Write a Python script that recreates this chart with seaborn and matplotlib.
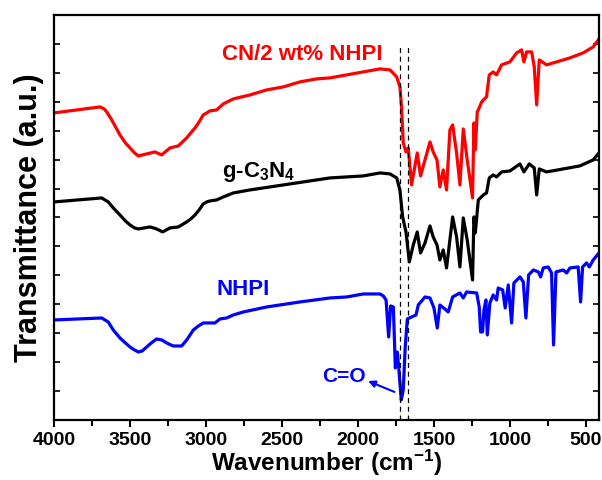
import pandas as pd
import matplotlib.pyplot as plt
import seaborn as sns
import numpy as np
from matplotlib.ticker import MultipleLocator

# FTIR spectra, transmittance in arbitrary units (offset stacked)
wn_cn = [4000, 3697, 3670, 3653, 3620, 3566, 3530, 3500, 3470, 3445, 3390, 3336, 3292, 3237,
         3182, 3127, 3100, 3072, 3045, 3018, 2995, 2974, 2930, 2886, 2820, 2710, 2601, 2491,
         2382, 2272, 2184, 2074, 1965, 1855, 1789, 1745, 1724, 1713, 1702, 1684, 1669, 1647,
         1610, 1588, 1559, 1526, 1505, 1480, 1461, 1439, 1417, 1395, 1377, 1351, 1329, 1307,
         1281, 1246, 1237, 1228, 1215, 1208, 1186, 1175, 1154, 1136, 1110, 1088, 1055, 1000,
         956, 923, 908, 890, 857, 840, 824, 807, 759, 693, 605, 518, 452, 414]
t_cn = [307, 313, 311, 308, 300, 285, 277, 272, 267, 264, 266, 268, 265, 272,
        274, 282, 287, 292, 298, 305, 307, 309, 310, 316, 321, 325, 330, 333,
        338, 341, 342, 345, 348, 351, 350, 343, 333, 313, 277, 268, 272, 235,
        267, 244, 260, 278, 268, 260, 233, 250, 230, 290, 295, 267, 235, 291,
        260, 222, 297, 270, 308, 310, 318, 320, 323, 345, 348, 345, 355, 358,
        367, 370, 358, 368, 368, 353, 315, 360, 355, 358, 362, 367, 373, 381]

wn_gcn = [4000, 3686, 3665, 3643, 3610, 3566, 3530, 3500, 3470, 3445, 3368, 3325, 3285, 3237,
          3182, 3127, 3100, 3072, 3045, 3018, 2995, 2974, 2930, 2886, 2820, 2710, 2491, 2272,
          2184, 2074, 1965, 1855, 1789, 1745, 1724, 1706, 1684, 1662, 1636, 1610, 1588, 1559,
          1526, 1505, 1480, 1461, 1439, 1417, 1377, 1351, 1329, 1307, 1281, 1246, 1237, 1228,
          1208, 1175, 1154, 1136, 1110, 1088, 1055, 1000, 934, 908, 873, 840, 824, 807, 759,
          649, 540, 452, 414]
t_gcn = [218, 222, 220, 218, 212, 205, 199, 195, 192, 191, 193, 191, 188, 192,
         193, 198, 201, 205, 210, 216, 218, 219, 220, 223, 227, 230, 235, 240,
         242, 243, 244, 247, 246, 242, 230, 203, 188, 158, 175, 188, 167, 177,
         194, 183, 175, 160, 170, 152, 203, 183, 153, 202, 180, 140, 203, 187,
         220, 225, 227, 242, 245, 243, 248, 249, 256, 248, 256, 252, 225, 251, 248,
         251, 254, 260, 267]

wn_nhpi = [4000, 3686, 3665, 3643, 3610, 3566, 3530, 3500, 3470, 3445, 3420, 3390, 3360, 3325,
           3290, 3270, 3245, 3215, 3160, 3127, 3105, 3083, 3050, 3018, 2941, 2908, 2864, 2820,
           2754, 2601, 2382, 2184, 2074, 1965, 1855, 1833, 1815, 1798, 1785, 1767, 1754, 1741,
           1732, 1715, 1702, 1689, 1675, 1647, 1618, 1603, 1559, 1526, 1500, 1478, 1461, 1428,
           1406, 1377, 1329, 1307, 1285, 1219, 1202, 1193, 1180, 1171, 1158, 1149, 1132, 1110,
           1088, 1077, 1048, 1031, 1011, 989, 974, 934, 912, 895, 877, 846, 813, 798, 781,
           748, 726, 713, 697, 649, 627, 605, 551, 535, 522, 496, 478, 452, 414]
t_nhpi = [100, 102, 100, 98, 90, 82, 77, 73, 70, 68, 69, 73, 77, 81,
          80, 78, 76, 74, 74, 80, 85, 90, 94, 97, 97, 101, 102, 105,
          108, 113, 118, 122, 123, 126, 126, 124, 120, 83, 114, 113, 52, 68,
          53, 20, 30, 73, 101, 103, 105, 115, 123, 122, 112, 92, 115, 111,
          108, 123, 127, 122, 128, 127, 113, 88, 88, 110, 120, 85, 117, 125,
          120, 132, 130, 112, 135, 97, 137, 143, 138, 102, 145, 150, 148, 143, 152,
          153, 147, 75, 148, 150, 147, 152, 153, 118, 153, 157, 153, 160, 167]

samples = ['CN/2 wt% NHPI', 'g-C3N4', 'NHPI']
colors = ['#ff0000', '#000000', '#0000ff']
dashed_wn = [1722, 1673]

sns.set_style('ticks')
plt.rcParams['font.family'] = ['Liberation Sans', 'DejaVu Sans']
plt.rcParams['font.weight'] = 'bold'
plt.rcParams['mathtext.fontset'] = 'custom'
plt.rcParams['mathtext.rm'] = 'Liberation Sans:bold'
plt.rcParams['mathtext.it'] = 'Liberation Sans:bold'
plt.rcParams['mathtext.bf'] = 'Liberation Sans:bold'
for key in ['text.color', 'axes.labelcolor', 'xtick.color', 'ytick.color', 'axes.edgecolor']:
    plt.rcParams[key] = 'black'

df = pd.concat([
    pd.DataFrame({'wavenumber': wn_cn, 'T': t_cn, 'sample': samples[0]}),
    pd.DataFrame({'wavenumber': wn_gcn, 'T': t_gcn, 'sample': samples[1]}),
    pd.DataFrame({'wavenumber': wn_nhpi, 'T': t_nhpi, 'sample': samples[2]}),
])

fig = plt.figure(figsize=(6.02, 4.8), dpi=100)
ax = fig.add_axes([0.0897, 0.125, 0.9053, 0.844])

sns.lineplot(data=df, x='wavenumber', y='T', hue='sample', palette=dict(zip(samples, colors)),
             estimator=None, linewidth=2.3, legend=False, ax=ax)

ax.vlines(dashed_wn, 0, 374, colors='black', linestyles=(0, (4, 3)), linewidth=0.9)

ax.text(2895, 365, 'CN/2 wt% NHPI', color=colors[0], fontsize=16, fontweight='bold',
        ha='left', va='center')
ax.text(2895, 243, 'g-C$_3$N$_4$', color=colors[1], fontsize=16, fontweight='bold',
        ha='left', va='baseline')
ax.text(2928, 130, 'NHPI', color=colors[2], fontsize=16, fontweight='bold',
        ha='left', va='center')
ax.text(2237, 43, 'C=O', color=colors[2], fontsize=15, fontweight='bold',
        ha='left', va='center')
ax.annotate('', xy=(1950, 40), xytext=(1743, 27),
            arrowprops=dict(arrowstyle='-|>', color=colors[2], lw=1.5, mutation_scale=10))

ax.set_xlim(4000, 414)
ax.set_ylim(0, 405)
ax.set_xticks(np.arange(4000, 499, -500))
ax.xaxis.set_minor_locator(MultipleLocator(250))
ax.set_yticks(np.arange(1, 14) * 405 / 14)
ax.set_yticklabels([])

ax.tick_params(axis='x', which='major', direction='out', length=5, width=1.5, labelsize=14)
ax.tick_params(axis='x', which='minor', direction='out', length=4, width=1.5)
ax.tick_params(axis='y', direction='in', length=4, width=1.2, right=True)
for label in ax.get_xticklabels():
    label.set_fontweight('bold')
for spine in ax.spines.values():
    spine.set_linewidth(1.6)

ax.set_xlabel('Wavenumber (cm$^{-1}$)', fontsize=17.5, fontweight='bold', labelpad=-1)
ax.set_ylabel('Transmittance (a.u.)', fontsize=22, fontweight='bold', labelpad=4)

plt.savefig('out.png', dpi=100)
plt.close()
